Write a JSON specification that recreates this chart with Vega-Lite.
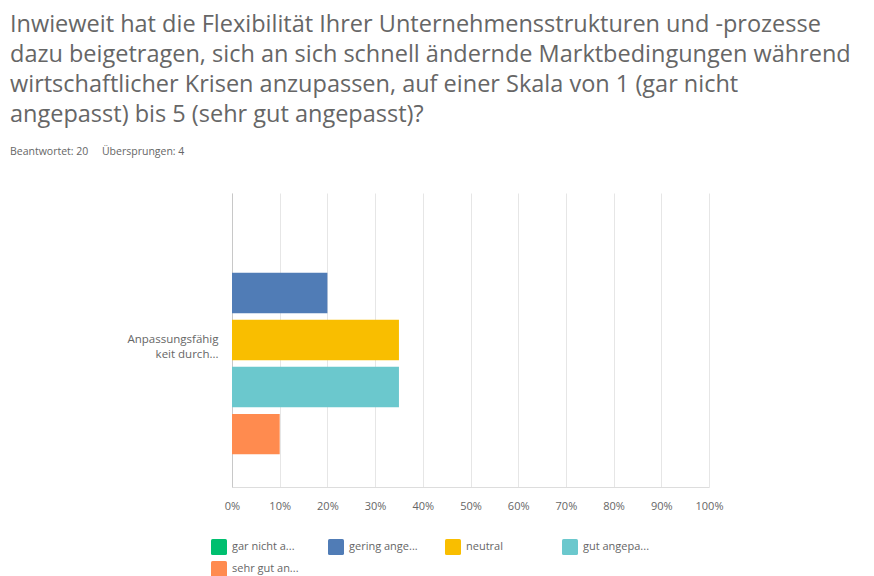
{
  "$schema": "https://vega.github.io/schema/vega-lite/v6.json",
  "autosize": "none",
  "width": 477,
  "height": 294,
  "padding": {"left": 232, "top": 193, "right": 165, "bottom": 89},
  "background": "white",
  "config": {
    "font": "Open Sans",
    "view": {"stroke": null}
  },
  "title": {
    "text": [
      "Inwieweit hat die Flexibilität Ihrer Unternehmensstrukturen und -prozesse",
      "dazu beigetragen, sich an sich schnell ändernde Marktbedingungen während",
      "wirtschaftlicher Krisen anzupassen, auf einer Skala von 1 (gar nicht",
      "angepasst) bis 5 (sehr gut angepasst)?"
    ],
    "subtitle": "Beantwortet: 20\u00a0\u00a0\u00a0\u00a0\u00a0Übersprungen: 4",
    "anchor": "start",
    "frame": "group",
    "dx": -222,
    "offset": 36,
    "font": "Open Sans",
    "fontSize": 23.5,
    "fontWeight": "normal",
    "color": "#666666",
    "lineHeight": 30,
    "limit": 0,
    "subtitleFont": "Open Sans",
    "subtitleFontSize": 10.5,
    "subtitleColor": "#666666",
    "subtitlePadding": 20
  },
  "data": {
    "values": [
      {"frage": "Anpassungsfähigkeit durch...", "option": "gar nicht angepasst", "anteil": 0.0},
      {"frage": "Anpassungsfähigkeit durch...", "option": "gering angepasst", "anteil": 0.2},
      {"frage": "Anpassungsfähigkeit durch...", "option": "neutral", "anteil": 0.35},
      {"frage": "Anpassungsfähigkeit durch...", "option": "gut angepasst", "anteil": 0.35},
      {"frage": "Anpassungsfähigkeit durch...", "option": "sehr gut angepasst", "anteil": 0.1}
    ]
  },
  "mark": {"type": "bar"},
  "encoding": {
    "y": {
      "field": "frage",
      "type": "nominal",
      "scale": {"paddingOuter": 0.1255, "paddingInner": 0},
      "axis": {
        "title": null,
        "ticks": false,
        "domain": true,
        "domainColor": "#c8c8c8",
        "labelPadding": 14,
        "labelFontSize": 11.5,
        "labelColor": "#666666",
        "labelLineHeight": 15,
        "labelExpr": "['Anpassungsfähig', 'keit durch...']"
      }
    },
    "yOffset": {
      "field": "option",
      "type": "nominal",
      "sort": ["gar nicht angepasst", "gering angepasst", "neutral", "gut angepasst", "sehr gut angepasst"],
      "scale": {"paddingInner": 0.143, "paddingOuter": 0.071}
    },
    "x": {
      "field": "anteil",
      "type": "quantitative",
      "scale": {"domain": [0, 1]},
      "axis": {
        "title": null,
        "format": ".0%",
        "values": [0, 0.1, 0.2, 0.3, 0.4, 0.5, 0.6, 0.7, 0.8, 0.9, 1],
        "grid": true,
        "gridColor": "#e6e6e6",
        "ticks": false,
        "domainColor": "#dddddd",
        "labelPadding": 13,
        "labelFontSize": 11,
        "labelColor": "#666666",
        "labelFlush": false
      }
    },
    "color": {
      "field": "option",
      "type": "nominal",
      "sort": ["gar nicht angepasst", "gering angepasst", "neutral", "gut angepasst", "sehr gut angepasst"],
      "scale": {
        "domain": ["gar nicht angepasst", "gering angepasst", "neutral", "gut angepasst", "sehr gut angepasst"],
        "range": ["#00bf6f", "#507cb6", "#f9be00", "#6bc8cd", "#ff8b4f"]
      },
      "legend": {
        "title": null,
        "orient": "none",
        "legendX": -21,
        "legendY": 346,
        "direction": "horizontal",
        "columns": 4,
        "gridAlign": "all",
        "columnPadding": 27,
        "rowPadding": 6,
        "padding": 0,
        "symbolType": "M-0.8,-1H0.8Q1,-1,1,-0.8V0.8Q1,1,0.8,1H-0.8Q-1,1,-1,0.8V-0.8Q-1,-1,-0.8,-1Z",
        "symbolSize": 256,
        "symbolStrokeWidth": 0,
        "symbolOpacity": 1,
        "labelOffset": 5,
        "labelFontSize": 11,
        "labelColor": "#666666",
        "labelExpr": "datum.label == 'gar nicht angepasst' ? 'gar nicht a...' : datum.label == 'gering angepasst' ? 'gering ange...' : datum.label == 'gut angepasst' ? 'gut angepa...' : datum.label == 'sehr gut angepasst' ? 'sehr gut an...' : datum.label"
      }
    }
  }
}
